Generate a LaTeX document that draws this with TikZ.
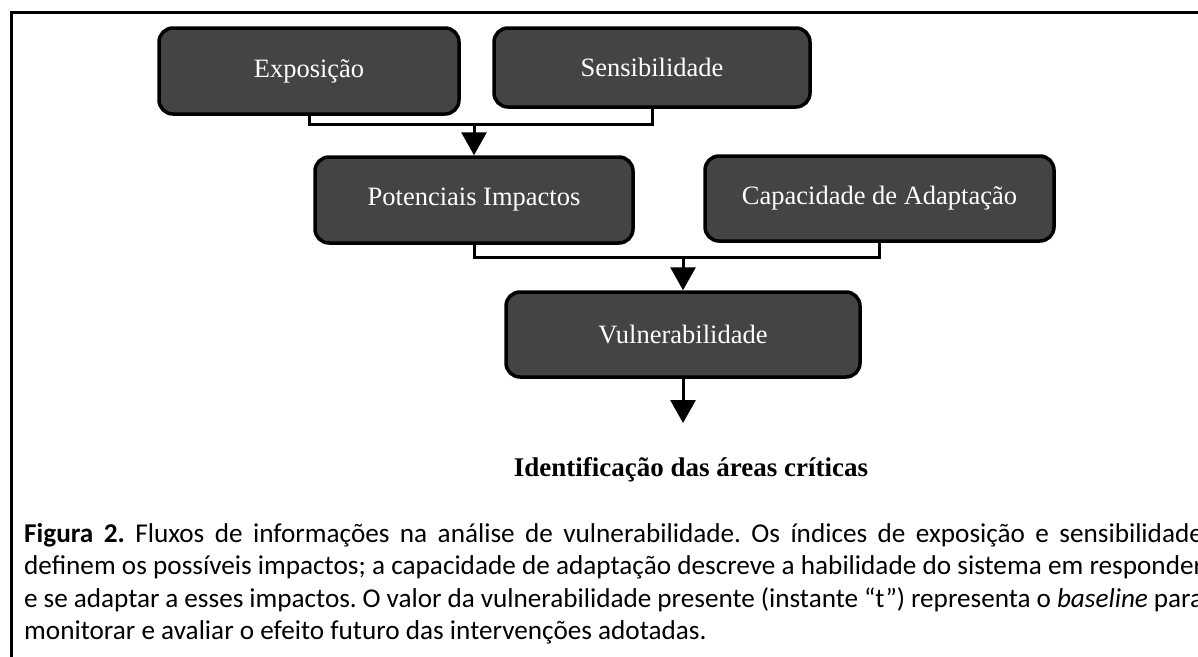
\documentclass[tikz,border=0pt]{standalone}
\usepackage{fontspec}
\setmainfont{Liberation Serif}
\newfontfamily\capfont{Carlito}
\usetikzlibrary{arrows.meta}
\definecolor{boxgray}{HTML}{444444}
\frenchspacing
\begin{document}
\begin{tikzpicture}[x=1pt,y=-1pt,
  flowbox/.style={draw=black,line width=3.5pt,rounded corners=14pt,fill=boxgray,
    text=white,inner sep=0pt,font=\fontsize{26.5}{30}\selectfont},
  conn/.style={draw=black,line width=3pt},
  arr/.style={draw=black,line width=3pt,-{Triangle[width=25pt,length=23pt]}}]
\useasboundingbox (0,0) rectangle (1198,656);
\draw[line width=3pt] (11.5,680) -- (11.5,12.5) -- (1230,12.5);
\node[flowbox,minimum width=300pt,minimum height=86pt] (expo) at (309,71) {Exposição};
\node[flowbox,minimum width=316pt,minimum height=79pt] (sens) at (652,67.5) {Sensibilidade};
\node[flowbox,minimum width=318pt,minimum height=86pt] (pot) at (474,200) {Potenciais Impactos};
\node[flowbox,minimum width=349pt,minimum height=85pt] (cap) at (879.5,198.5) {Capacidade de Adaptação};
\node[flowbox,minimum width=354pt,minimum height=85pt] (vul) at (683,334.5) {Vulnerabilidade};
\coordinate (j1) at (474,124);
\coordinate (j2) at (683,257);
\coordinate (vend) at (684,423);
\draw[conn] (expo.south) -- (expo.south |- j1) -- (sens.south |- j1) -- (sens.south);
\draw[arr] (pot.north |- j1) -- (pot.north);
\draw[conn] (pot.south) -- (pot.south |- j2) -- (cap.south |- j2) -- (cap.south);
\draw[arr] (vul.north |- j2) -- (vul.north);
\draw[arr] (vul.south) -- (vul.south |- vend);
\node[font=\fontsize{27}{30}\selectfont\bfseries,inner sep=0pt] (crit) at (691,470) {Identificação das áreas críticas};
\node[anchor=north west,inner sep=0pt,text width=1179pt,align=justify,
  font=\capfont\fontsize{27.2}{32.5}\selectfont] (capt) at (24,523)
{\textbf{Figura 2.} Fluxos de informações na análise de vulnerabilidade. Os índices de exposição e sensibilidade\linebreak
definem os possíveis impactos; a capacidade de adaptação descreve a habilidade do sistema em responder\linebreak
e se adaptar a esses impactos. O valor da vulnerabilidade presente (instante “t”) representa o \textit{baseline} para\linebreak
monitorar e avaliar o efeito futuro das intervenções adotadas.\par};
\end{tikzpicture}
\end{document}
